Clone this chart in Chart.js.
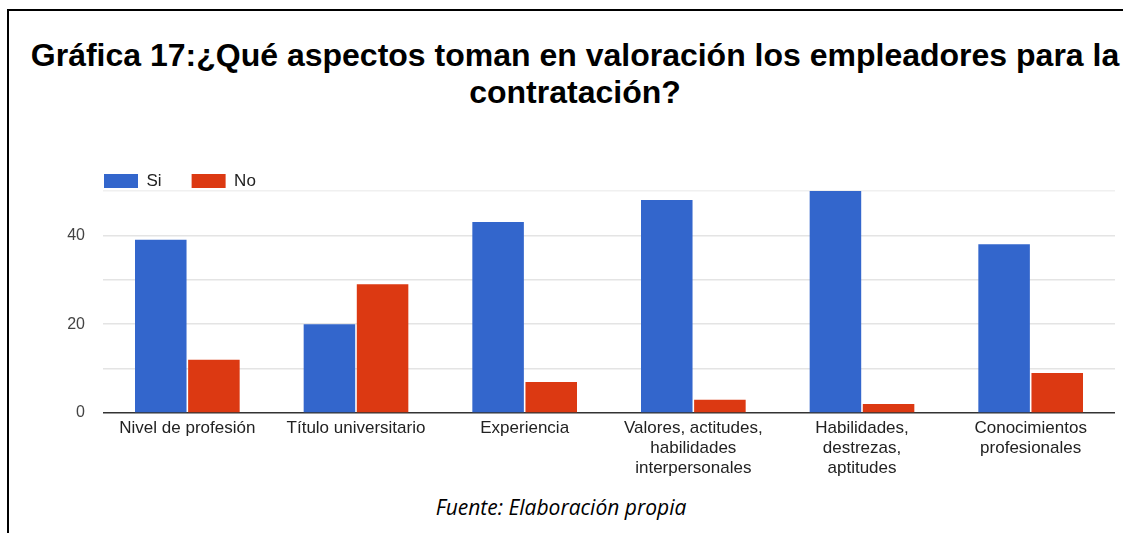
<!DOCTYPE html>
<html>
<head>
<meta charset="utf-8">
<script src="https://cdn.jsdelivr.net/npm/chart.js@4.4.1/dist/chart.umd.min.js"></script>
<style>
  html, body { margin: 0; padding: 0; background: #fff; }
  body { width: 1123px; height: 533px; position: relative; overflow: hidden; }
  #frame { position: absolute; left: 7px; top: 9px; width: 1200px; height: 600px; border-left: 2.5px solid #000; border-top: 2.5px solid #000; box-sizing: border-box; }
  #title { position: absolute; left: 0; width: 1150px; top: 37px; text-align: center; font-family: "Liberation Sans", Arial, sans-serif; font-weight: bold; font-size: 32px; line-height: 37px; color: #000; }
  #source { position: absolute; left: 0; width: 1122px; top: 493px; text-align: center; font-family: "Open Sans", sans-serif; font-style: italic; font-size: 21px; line-height: 28px; color: #000; }
  #wrap { position: absolute; left: 0; top: 134px; width: 1123px; height: 356px; }
</style>
</head>
<body>
<div id="frame"></div>
<div id="title">Gráfica 17:¿Qué aspectos toman en valoración los empleadores para la<br>contratación?</div>
<div id="wrap"><canvas id="c"></canvas></div>
<div id="source">Fuente: Elaboración propia</div>
<script>
const categories = [
  "Nivel de profesión",
  "Título universitario",
  "Experiencia",
  ["Valores, actitudes,", "habilidades", "interpersonales"],
  ["Habilidades,", "destrezas,", "aptitudes"],
  ["Conocimientos", "profesionales"]
];
const siValues = [39, 20, 43, 48, 50, 38];
const noValues = [12, 29, 7, 3, 2, 9];
const seriesNames = ["Si", "No"];
const yTickLabels = [0, 20, 40];

const FONT = '"Liberation Sans", Arial, sans-serif';

const legendPlace = {
  id: 'legendPlace',
  afterLayout(chart) {
    const lg = chart.legend;
    if (!lg) return;
    const pad = lg.options.labels.padding;
    lg.left = 104 - pad;
    lg.top = 38.5 - pad;
  }
};

new Chart(document.getElementById('c'), {
  type: 'bar',
  data: {
    labels: categories,
    datasets: [
      { label: seriesNames[0], data: siValues, backgroundColor: '#3366cc', borderWidth: 0, categoryPercentage: 0.63, barPercentage: 0.97 },
      { label: seriesNames[1], data: noValues, backgroundColor: '#dc3912', borderWidth: 0, categoryPercentage: 0.63, barPercentage: 0.97 }
    ]
  },
  options: {
    responsive: true,
    maintainAspectRatio: false,
    animation: false,
    layout: { padding: { top: 0, right: 8, left: 0, bottom: 0 } },
    plugins: {
      legend: {
        position: 'top',
        align: 'start',
        labels: {
          boxWidth: 34, boxHeight: 14, padding: 30,
          color: '#222',
          font: { family: FONT, size: 17 }
        }
      },
      tooltip: { enabled: false }
    },
    scales: {
      x: {
        grid: { display: false, drawTicks: false },
        border: { display: false },
        ticks: {
          autoSkip: false, maxRotation: 0, padding: 5,
          color: '#222',
          font: { family: FONT, size: 17, lineHeight: '20px' }
        },
        afterFit(s) { s.height = 77; }
      },
      y: {
        min: 0, max: 50,
        grid: {
          drawTicks: false,
          color: (ctx) => ctx.tick && ctx.tick.value === 0 ? '#333333' : (ctx.tick && ctx.tick.value === 50 ? '#f0f0f0' : '#e4e4e4'),
          lineWidth: 1.5
        },
        border: { display: false },
        ticks: {
          stepSize: 10, padding: 18,
          color: '#444',
          font: { family: FONT, size: 16 },
          callback: (v) => yTickLabels.includes(v) ? String(v) : ''
        },
        afterFit(s) { s.width = 103; }
      }
    }
  },
  plugins: [legendPlace]
});
</script>
</body>
</html>
